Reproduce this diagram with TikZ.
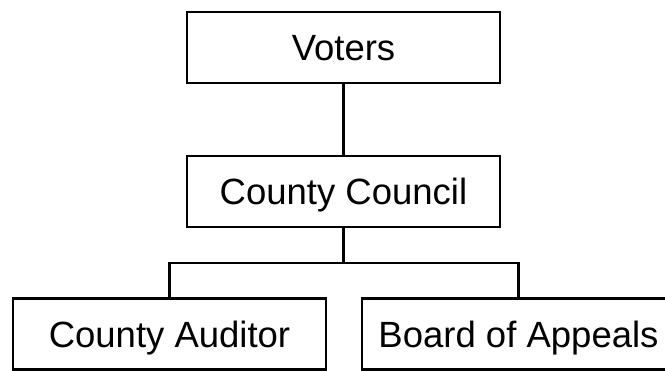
\documentclass[tikz,border=0pt]{standalone}
\usepackage{fontspec}
\setmainfont{Liberation Sans}
\begin{document}
\begin{tikzpicture}[x=1pt,y=-1pt,
  orgbox/.style={draw=black, line width=2.6pt, fill=white, minimum width=313pt, minimum height=71pt, inner sep=0pt, text height=26.1pt, text depth=0pt, font=\fontsize{36.5}{40}\selectfont},
  link/.style={draw=black, line width=2.6pt}]
\useasboundingbox (0,0) rectangle (665,371);
\clip (0,0) rectangle (665,371);
\node[orgbox] (voters) at (343.5,47.5) {Voters};
\node[orgbox] (council) at (343.5,191.5) {County Council};
\node[orgbox] (auditor) at (169.5,334) {County Auditor};
\node[orgbox] (board) at (518.5,334) {Board of Appeals};
\coordinate (bar) at (343.5,263);
\draw[link] (voters.south) -- (council.north);
\draw[link] (council.south) -- (bar);
\draw[link] (auditor.north) |- (bar) -| (board.north);
\end{tikzpicture}
\end{document}
